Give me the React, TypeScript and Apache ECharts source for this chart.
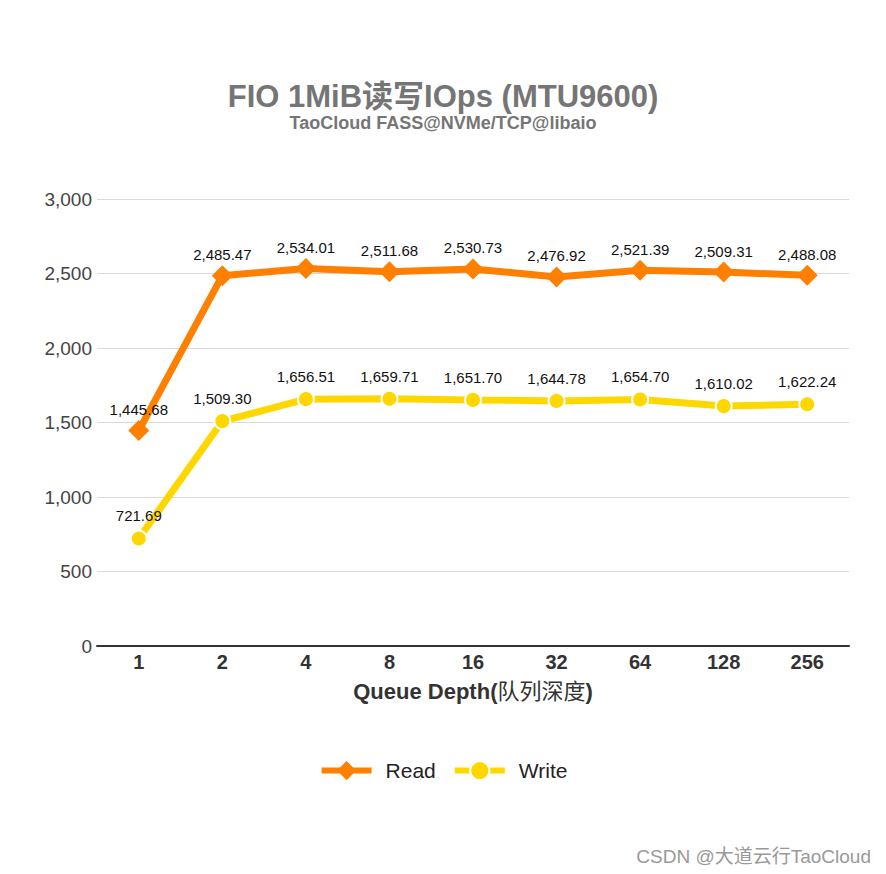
import React, { useEffect, useRef } from "react";
import * as echarts from "echarts";

const categories = ["1", "2", "4", "8", "16", "32", "64", "128", "256"];
const readValues = [1445.68, 2485.47, 2534.01, 2511.68, 2530.73, 2476.92, 2521.39, 2509.31, 2488.08];
const writeValues = [721.69, 1509.3, 1656.51, 1659.71, 1651.7, 1644.78, 1654.7, 1610.02, 1622.24];
const yTicks = { min: 0, max: 3000, interval: 500 };

const FONT = "'Liberation Sans', Arial, 'Noto Sans CJK SC', sans-serif";

const fmt = (v: number) =>
  v.toLocaleString("en-US", { minimumFractionDigits: 2, maximumFractionDigits: 2 });

export default function App() {
  const ref = useRef<HTMLDivElement>(null);
  useEffect(() => {
    document.body.style.margin = "0";
    if (!ref.current) return;
    const chart = echarts.init(ref.current, null, { renderer: "svg" });
    chart.setOption({
      animation: false,
      backgroundColor: "#ffffff",
      textStyle: { fontFamily: FONT },
      title: {
        text: "FIO 1MiB读写IOps (MTU9600)",
        subtext: "TaoCloud FASS@NVMe/TCP@libaio",
        left: "center",
        top: 76,
        itemGap: 2,
        textStyle: { fontFamily: FONT, fontSize: 31, fontWeight: "bold", color: "#757575" },
        subtextStyle: { fontFamily: FONT, fontSize: 18, fontWeight: "bold", color: "#757575" },
      },
      legend: {
        top: 755,
        left: "center",
        itemWidth: 50,
        itemHeight: 24,
        itemGap: 16,
        lineStyle: { width: 6 },
        textStyle: { fontFamily: FONT, fontSize: 21, color: "#222", padding: [0, 0, 0, 9] },
        data: ["Read", "Write"],
      },
      graphic: [
        {
          type: "text",
          right: 15,
          bottom: 8,
          style: { text: "CSDN @大道云行TaoCloud", fontFamily: FONT, fontSize: 19, fill: "#999" },
        },
      ],
      grid: { left: 97, right: 37, top: 199, bottom: 228 },
      xAxis: {
        type: "category",
        data: categories,
        boundaryGap: true,
        axisLine: { lineStyle: { color: "#333", width: 2 } },
        axisTick: { show: false },
        axisLabel: { fontFamily: FONT, fontSize: 20, fontWeight: "bold", color: "#333", margin: 6 },
        name: "{a|Queue Depth(}{b|队列深度}{a|)}",
        nameLocation: "middle",
        nameGap: 34,
        nameTextStyle: {
          fontFamily: FONT,
          color: "#333",
          rich: {
            a: { fontFamily: FONT, fontSize: 22, fontWeight: "bold", color: "#333" },
            b: { fontFamily: FONT, fontSize: 22, fontWeight: "normal", color: "#333" },
          },
        },
      },
      yAxis: {
        type: "value",
        min: yTicks.min,
        max: yTicks.max,
        interval: yTicks.interval,
        axisLine: { show: false },
        axisTick: { show: false },
        splitLine: { lineStyle: { color: "#d9d9d9", width: 1 } },
        axisLabel: {
          fontFamily: FONT,
          fontSize: 19,
          color: "#444",
          margin: 5,
          formatter: (v: number) => v.toLocaleString("en-US"),
        },
      },
      series: [
        {
          name: "Write",
          type: "line",
          data: writeValues,
          color: "#FFD700",
          symbol: "circle",
          symbolSize: 16,
          lineStyle: { width: 7, color: "#FFD700" },
          itemStyle: { color: "#FFD700", borderColor: "#fff", borderWidth: 2 },
          label: {
            show: true,
            position: "top",
            distance: 6,
            fontFamily: FONT,
            fontSize: 15,
            color: "#111",
            formatter: (p: any) => fmt(p.value),
          },
          z: 2,
        },
        {
          name: "Read",
          type: "line",
          data: readValues,
          color: "#FF7F00",
          symbol: "diamond",
          symbolSize: 21,
          lineStyle: { width: 7, color: "#FF7F00" },
          itemStyle: { color: "#FF7F00" },
          label: {
            show: true,
            position: "top",
            distance: 3,
            fontFamily: FONT,
            fontSize: 15,
            color: "#111",
            formatter: (p: any) => fmt(p.value),
          },
          z: 3,
        },
      ],
    });
    return () => chart.dispose();
  }, []);
  return <div ref={ref} style={{ width: 886, height: 874 }} />;
}
